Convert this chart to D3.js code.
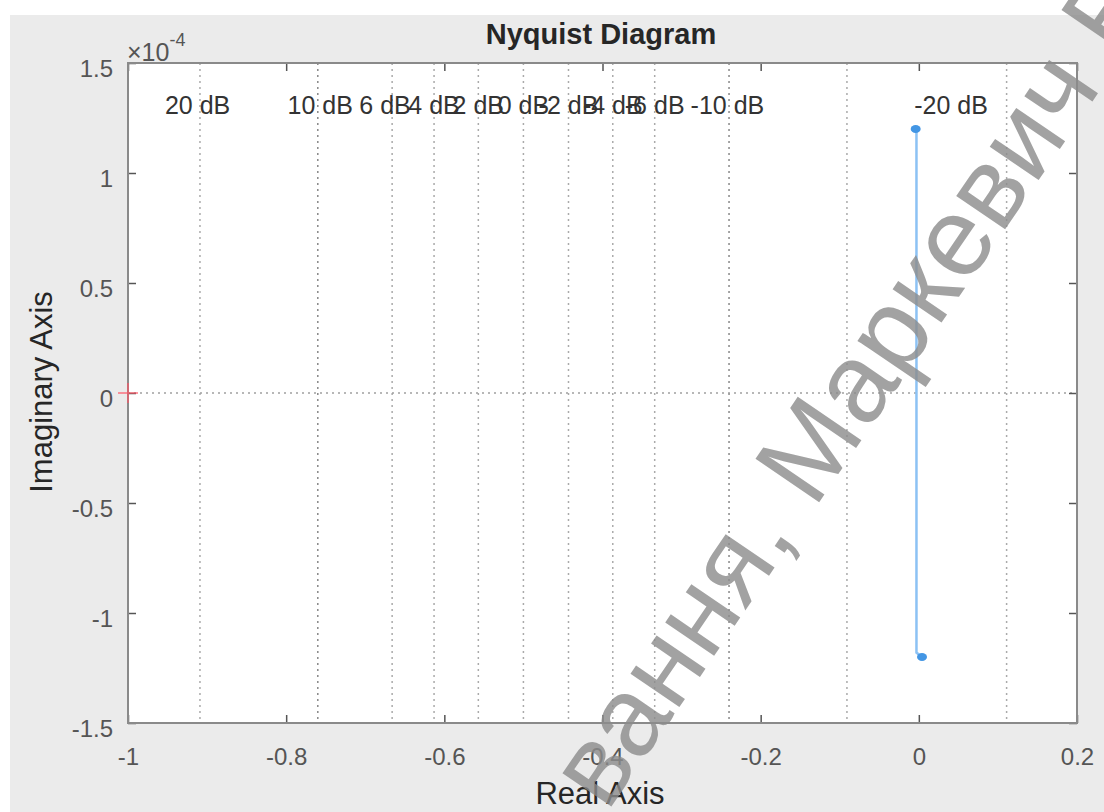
<!DOCTYPE html>
<html>
<head>
<meta charset="utf-8">
<script src="https://cdn.jsdelivr.net/npm/d3@7/dist/d3.min.js"></script>
<style>
  body { margin: 0; background: #fff; }
  text { font-family: "Liberation Sans", Arial, Helvetica, sans-serif; }
</style>
</head>
<body>
<svg id="chart" width="1104" height="812"></svg>
<script>
// axis ticks
var xTicks = [-1, -0.8, -0.6, -0.4, -0.2, 0, 0.2]
var yTicks = [-1.5, -1, -0.5, 0, 0.5, 1, 1.5]   // x 1e-4

// constant-dB grid lines, where they cut the real axis
var gridRe = [-0.909, -0.760, -0.666, -0.613, -0.557, -0.5, -0.443, -0.387, -0.334, -0.240, -0.0909, 0.111]

// dB labels and the real value where each one sits
var dbLabels = ["20 dB", "10 dB", "6 dB", "4 dB", "2 dB", "0 dB", "-2 dB", "-4 dB", "-6 dB", "-10 dB", "-20 dB"]
var dbLabelRe = [-0.912, -0.757, -0.675, -0.613, -0.557, -0.5, -0.443, -0.387, -0.334, -0.242, 0.0407]

// nyquist curve (imag part in 1e-4)
var nyqRe = [-0.004, -0.003, -0.003, -0.003, -0.003, 0.004]
var nyqIm = [1.2, 1.18, 0.5, 0, -1.18, -1.2]

var svg = d3.select("#chart")

// figure background
svg.append("rect").attr("x", 10).attr("y", 15).attr("width", 1094).attr("height", 797).attr("fill", "#ebebeb")

var pLeft = 128, pRight = 1077, pTop = 63, pBottom = 723
var x = d3.scaleLinear().domain([-1, 0.2]).range([pLeft, pRight])
var y = d3.scaleLinear().domain([-1.5, 1.5]).range([pBottom, pTop])

svg.append("rect")
  .attr("x", pLeft).attr("y", pTop)
  .attr("width", pRight - pLeft).attr("height", pBottom - pTop)
  .attr("fill", "#fff")

var plot = svg.append("g")

// vertical dB grid lines
plot.selectAll("line.grid")
  .data(gridRe)
  .enter()
  .append("line")
  .attr("class", "grid")
  .attr("x1", function(d){ return x(d) })
  .attr("x2", function(d){ return x(d) })
  .attr("y1", pTop)
  .attr("y2", pBottom)
  .style("stroke", function(d, i){ return (i == 1 || i == 9) ? "#888" : "#aaa" })
  .style("stroke-width", 1.5)
  .style("stroke-dasharray", "2,4")

// real axis dotted line
plot.append("line")
  .attr("x1", pLeft).attr("x2", pRight)
  .attr("y1", y(0)).attr("y2", y(0))
  .style("stroke", "#a0a0a0")
  .style("stroke-width", 1.5)
  .style("stroke-dasharray", "2,4")

// dB labels
plot.selectAll("text.db")
  .data(dbLabels)
  .enter()
  .append("text")
  .attr("class", "db")
  .attr("x", function(d, i){ return x(dbLabelRe[i]) })
  .attr("y", 114)
  .attr("text-anchor", "middle")
  .attr("font-size", 25)
  .attr("fill", "#333")
  .text(function(d){ return d })

// curve
var pts = nyqRe.map(function(d, i){ return [d, nyqIm[i]] })
var line = d3.line().x(function(d){ return x(d[0]) }).y(function(d){ return y(d[1]) })
plot.append("path")
  .datum(pts)
  .attr("d", line)
  .attr("fill", "none")
  .style("stroke", "#8cc2f4")
  .style("stroke-width", 2.5)

plot.selectAll("ellipse.end")
  .data([pts[0], pts[pts.length - 1]])
  .enter()
  .append("ellipse")
  .attr("cx", function(d){ return x(d[0]) })
  .attr("cy", function(d){ return y(d[1]) })
  .attr("rx", 5)
  .attr("ry", 4)
  .attr("fill", "#4396e4")

// axes, ticks pointing inwards
function fmt(d){ return d3.format("")(+d.toFixed(2)).replace("−", "-") }

var axB = svg.append("g").attr("transform", "translate(0," + pBottom + ")")
  .call(d3.axisBottom(x).tickValues(xTicks).tickSizeInner(-8).tickSizeOuter(0).tickPadding(25).tickFormat(fmt))
var axT = svg.append("g").attr("transform", "translate(0," + pTop + ")")
  .call(d3.axisTop(x).tickValues(xTicks).tickSizeInner(-8).tickSizeOuter(0).tickFormat(""))
var axL = svg.append("g").attr("transform", "translate(" + pLeft + ",0)")
  .call(d3.axisLeft(y).tickValues(yTicks).tickSizeInner(-8).tickSizeOuter(0).tickPadding(15).tickFormat(fmt))
var axR = svg.append("g").attr("transform", "translate(" + pRight + ",0)")
  .call(d3.axisRight(y).tickValues(yTicks).tickSizeInner(-8).tickSizeOuter(0).tickFormat(""))

;[axB, axT, axL, axR].forEach(function(a){
  a.select(".domain").remove()
  a.selectAll(".tick line").style("stroke", "#555").style("stroke-width", 1.5)
  a.selectAll(".tick text")
    .attr("font-family", "Liberation Sans, Arial, sans-serif")
    .attr("font-size", 24)
    .attr("fill", "#555")
})
axL.selectAll(".tick text").attr("dy", "0.55em")

// box
svg.append("rect")
  .attr("x", pLeft).attr("y", pTop)
  .attr("width", pRight - pLeft).attr("height", pBottom - pTop)
  .attr("fill", "none")
  .style("stroke", "#8a8a8a")
  .style("stroke-width", 2)

// critical point (-1, 0), drawn over the box
var cp = [-1, 0]
svg.append("path")
  .attr("d", "M" + (x(cp[0]) - 10) + "," + y(cp[1]) + "H" + (x(cp[0]) + 10) +
             "M" + x(cp[0]) + "," + (y(cp[1]) - 10) + "V" + (y(cp[1]) + 10))
  .style("stroke", "#ff5566")
  .style("stroke-width", 1.5)
  .style("opacity", 0.8)

// exponent
var ex = svg.append("text").attr("x", 127).attr("y", 61).attr("font-size", 25).attr("fill", "#555")
ex.append("tspan").text("\u00d710")
ex.append("tspan").attr("dy", -15).attr("font-size", 18).text("-4")

// title and axis labels
svg.append("text")
  .attr("x", 601).attr("y", 44)
  .attr("text-anchor", "middle")
  .attr("font-size", 29)
  .attr("font-weight", "bold")
  .attr("fill", "#262626")
  .text("Nyquist Diagram")

svg.append("text")
  .attr("x", 600).attr("y", 804)
  .attr("text-anchor", "middle")
  .attr("font-size", 31)
  .attr("fill", "#262626")
  .text("Real Axis")

svg.append("text")
  .attr("transform", "translate(52,392) rotate(-90)")
  .attr("text-anchor", "middle")
  .attr("font-size", 31)
  .attr("fill", "#262626")
  .text("Imaginary Axis")

// scan watermark
svg.append("text")
  .attr("transform", "translate(607,813) rotate(-55.7)")
  .attr("font-size", 112)
  .attr("fill", "#8c8c8c")
  .attr("opacity", 0.8)
  .text("вання, Маркевич В")
</script>
</body>
</html>
